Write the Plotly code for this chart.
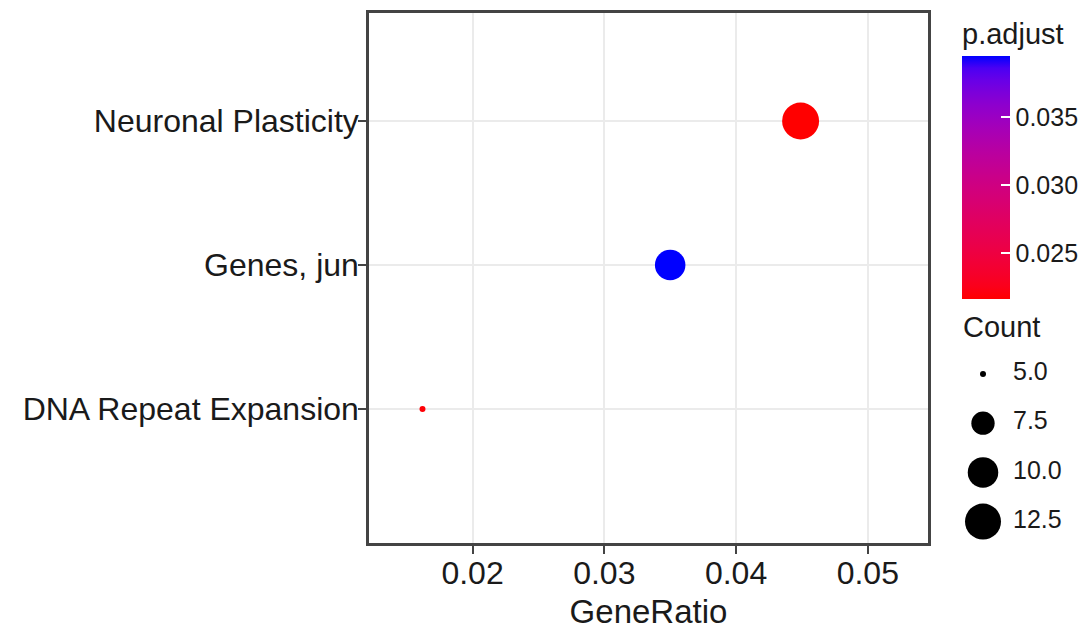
import plotly.graph_objects as go

# ---------------- data ----------------
terms = ["Neuronal Plasticity", "Genes, jun", "DNA Repeat Expansion"]
gene_ratio = [0.0449, 0.0350, 0.0162]
counts = [13, 10, 5]
p_adjust = [0.0216, 0.0395, 0.0218]

category_order = ["DNA Repeat Expansion", "Genes, jun", "Neuronal Plasticity"]  # bottom -> top
x_ticks = [0.02, 0.03, 0.04, 0.05]
x_tick_labels = ["0.02", "0.03", "0.04", "0.05"]
cbar_ticks = [0.025, 0.030, 0.035]
cbar_tick_labels = ["0.025", "0.030", "0.035"]
size_breaks = [5.0, 7.5, 10.0, 12.5]
size_break_labels = ["5.0", "7.5", "10.0", "12.5"]

FONT = "Liberation Sans, Arial, sans-serif"
TXT = "#1a1a1a"

# --------- size scale (count -> diameter px) ----------
cmin, cmax = min(counts), max(counts)
def diam(c):
    t = max((c - cmin) / (cmax - cmin), 0)
    return 6 + 31 * t ** 0.5

# --------- colour scale: red -> blue interpolated in CIELAB ----------
def srgb_to_lab(rgb):
    def lin(c):
        c = c / 255
        return c / 12.92 if c <= 0.04045 else ((c + 0.055) / 1.055) ** 2.4
    r, g, b = (lin(v) for v in rgb)
    X = 0.4124 * r + 0.3576 * g + 0.1805 * b
    Y = 0.2126 * r + 0.7152 * g + 0.0722 * b
    Z = 0.0193 * r + 0.1192 * g + 0.9505 * b
    Xn, Yn, Zn = 0.95047, 1.0, 1.08883
    def f(t):
        return t ** (1 / 3) if t > 216 / 24389 else (24389 / 27 * t + 16) / 116
    fx, fy, fz = f(X / Xn), f(Y / Yn), f(Z / Zn)
    return 116 * fy - 16, 500 * (fx - fy), 200 * (fy - fz)

def lab_to_srgb(lab):
    L, a, b = lab
    fy = (L + 16) / 116
    fx = fy + a / 500
    fz = fy - b / 200
    def finv(t):
        return t ** 3 if t ** 3 > 216 / 24389 else (116 * t - 16) / (24389 / 27)
    Xn, Yn, Zn = 0.95047, 1.0, 1.08883
    X, Y, Z = Xn * finv(fx), Yn * finv(fy), Zn * finv(fz)
    r = 3.2406 * X - 1.5372 * Y - 0.4986 * Z
    g = -0.9689 * X + 1.8758 * Y + 0.0415 * Z
    bb = 0.0557 * X - 0.2040 * Y + 1.0570 * Z
    def gam(c):
        c = c * 12.92 if c <= 0.0031308 else 1.055 * c ** (1 / 2.4) - 0.055
        return int(round(min(max(c, 0), 1) * 255))
    return gam(r), gam(g), gam(bb)

low_lab = srgb_to_lab((255, 0, 0))
high_lab = srgb_to_lab((0, 0, 255))
colorscale = []
n = 20
for i in range(n + 1):
    t = i / n
    lab = tuple(low_lab[k] + (high_lab[k] - low_lab[k]) * t for k in range(3))
    r, g, b = lab_to_srgb(lab)
    colorscale.append([t, f"rgb({r},{g},{b})"])

# --------- layout geometry ----------
W, H = 1090, 630
ML, MR, MT, MB = 369, 0, 13, 87
PW = W - ML - MR
PH = H - MT - MB
panel_right = 928
bar_left, bar_w = 962, 48

fig = go.Figure()

fig.add_trace(go.Scatter(
    x=gene_ratio, y=terms, mode="markers",
    marker=dict(
        size=[diam(c) for c in counts],
        sizemode="diameter",
        color=p_adjust,
        cmin=min(p_adjust), cmax=max(p_adjust),
        colorscale=colorscale,
        line=dict(width=0),
        opacity=1,
        colorbar=dict(
            title=dict(text="p.adjust", side="top", font=dict(family=FONT, size=29, color=TXT)),
            x=(bar_left - ML) / PW, xanchor="left", xpad=0,
            y=(H - MB - 159) / PH, yanchor="middle", ypad=0,
            thickness=bar_w, thicknessmode="pixels",
            len=280, lenmode="pixels",
            outlinewidth=0,
            ticks="inside", ticklen=9, tickcolor="white", tickwidth=1.5,
            tickvals=cbar_ticks, ticktext=cbar_tick_labels,
            tickfont=dict(family=FONT, size=25, color=TXT),
        ),
    ),
    showlegend=False, hoverinfo="x+y", cliponaxis=False,
    xaxis="x", yaxis="y",
))

# size legend (drawn on a helper axis in pixel units)
leg_x = 983
leg_y0, leg_step = 374, 49.2
fig.add_trace(go.Scatter(
    x=[leg_x] * len(size_breaks),
    y=[leg_y0 + i * leg_step for i in range(len(size_breaks))],
    mode="markers",
    marker=dict(size=[diam(c) for c in size_breaks], color="#000000",
                line=dict(width=0), opacity=1),
    showlegend=False, hoverinfo="skip", cliponaxis=False,
    xaxis="x2", yaxis="y2",
))
fig.add_trace(go.Scatter(
    x=[1013] * len(size_breaks),
    y=[leg_y0 + i * leg_step for i in range(len(size_breaks))],
    mode="text", text=size_break_labels, textposition="middle right",
    textfont=dict(family=FONT, size=25, color=TXT),
    showlegend=False, hoverinfo="skip", cliponaxis=False,
    xaxis="x2", yaxis="y2",
))

fig.update_layout(
    width=W, height=H,
    margin=dict(l=ML, r=MR, t=MT, b=MB, pad=0),
    paper_bgcolor="white", plot_bgcolor="white",
    font=dict(family=FONT, color=TXT),
    xaxis=dict(
        domain=[0, (panel_right - ML) / PW],
        range=[0.01214, 0.05457],
        tickvals=x_ticks, ticktext=x_tick_labels,
        tickfont=dict(family=FONT, size=32, color=TXT),
        ticks="outside", ticklen=8, tickwidth=2, tickcolor="#444",
        ticklabelstandoff=-8,
        showgrid=True, gridcolor="#ebebeb", gridwidth=1.5,
        showline=True, linecolor="#444", linewidth=2.5, mirror=True,
        zeroline=False,
        title=dict(text="GeneRatio", font=dict(family=FONT, size=33, color=TXT), standoff=14),
        anchor="y",
    ),
    yaxis=dict(
        type="category",
        categoryorder="array", categoryarray=category_order,
        range=[-0.931, 2.75],
        tickfont=dict(family=FONT, size=32, color=TXT),
        ticks="outside", ticklen=8, tickwidth=2, tickcolor="#444",
        ticklabelstandoff=-7,
        showgrid=True, gridcolor="#ebebeb", gridwidth=1.5,
        showline=True, linecolor="#444", linewidth=2.5, mirror=True,
        zeroline=False,
        anchor="x",
    ),
    xaxis2=dict(domain=[(940 - ML) / PW, 1], range=[940, W], visible=False,
                fixedrange=True, anchor="y2"),
    yaxis2=dict(domain=[0, 1], range=[H - MB, MT], visible=False,
                fixedrange=True, anchor="x2"),
    annotations=[dict(
        text="Count", x=961, y=327, xref="x2", yref="y2",
        xanchor="left", yanchor="middle", showarrow=False,
        font=dict(family=FONT, size=29, color=TXT),
    )],
)

fig.write_html(
    "out.html",
    config={"displayModeBar": False},
    post_script="document.body.style.margin='0px';document.body.style.overflow='hidden';",
)
